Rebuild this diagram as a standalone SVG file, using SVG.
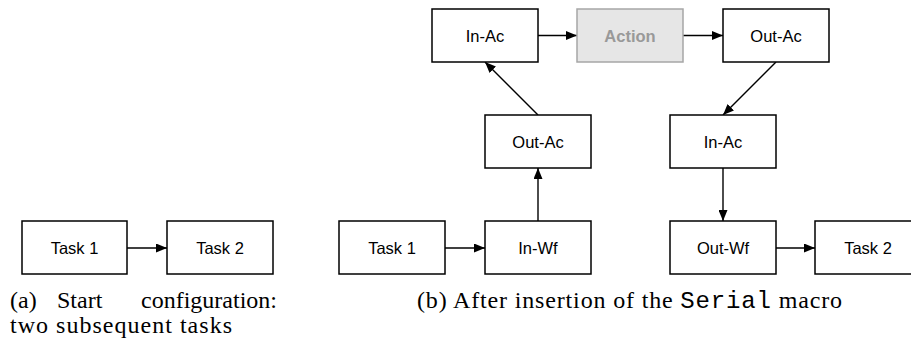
<svg xmlns="http://www.w3.org/2000/svg" width="911" height="343" viewBox="0 0 911 343">
  <style>
    .box { fill: #ffffff; stroke: #000000; stroke-width: 1.5; }
    .act { fill: #e6e6e6; stroke: #a6a6a6; stroke-width: 1.5; }
    .lbl { font-family: "Liberation Sans", Arial, sans-serif; font-size: 16.5px; fill: #000000; text-anchor: middle; }
    .actlbl { font-family: "Liberation Sans", Arial, sans-serif; font-size: 16.5px; font-weight: bold; fill: #999999; text-anchor: middle; }
    .edge { stroke: #000000; stroke-width: 1.4; fill: none; marker-end: url(#arr); }
    .cap { font-family: "Liberation Serif", "Times New Roman", serif; font-size: 24px; fill: #000000; }
    .mono { font-family: "Liberation Mono", "Courier New", monospace; }
  </style>
  <defs>
    <marker id="arr" markerUnits="userSpaceOnUse" markerWidth="11" markerHeight="9" refX="11" refY="4.5" orient="auto">
      <path d="M0,0 L11,4.5 L0,9 z" fill="#000000"/>
    </marker>
  </defs>

  <g id="connectors">
    <line class="edge" x1="127" y1="248" x2="167" y2="248"/>
    <line class="edge" x1="445" y1="248" x2="485" y2="248"/>
    <line class="edge" x1="538" y1="221" x2="538" y2="168"/>
    <line class="edge" x1="538" y1="115" x2="485" y2="62"/>
    <line class="edge" x1="538" y1="35.5" x2="577" y2="35.5"/>
    <line class="edge" x1="683" y1="35.5" x2="723" y2="35.5"/>
    <line class="edge" x1="776" y1="62" x2="723" y2="115"/>
    <line class="edge" x1="723" y1="168" x2="723" y2="221"/>
    <line class="edge" x1="776" y1="248" x2="815" y2="248"/>
  </g>

  <g id="a-task1">
    <rect class="box" x="22" y="221" width="105" height="53"/>
    <text class="lbl" x="74.5" y="253.5">Task 1</text>
  </g>
  <g id="a-task2">
    <rect class="box" x="167" y="221" width="106" height="53"/>
    <text class="lbl" x="220" y="253.5">Task 2</text>
  </g>

  <g id="b-inac1">
    <rect class="box" x="432" y="9" width="106" height="53"/>
    <text class="lbl" x="485" y="41.5">In-Ac</text>
  </g>
  <g id="b-action">
    <rect class="act" x="577" y="9" width="106" height="53"/>
    <text class="actlbl" x="630" y="41.5">Action</text>
  </g>
  <g id="b-outac1">
    <rect class="box" x="723" y="9" width="106" height="53"/>
    <text class="lbl" x="776" y="41.5">Out-Ac</text>
  </g>
  <g id="b-outac2">
    <rect class="box" x="485" y="115" width="106" height="53"/>
    <text class="lbl" x="538" y="147.5">Out-Ac</text>
  </g>
  <g id="b-inac2">
    <rect class="box" x="670" y="115" width="106" height="53"/>
    <text class="lbl" x="723" y="147.5">In-Ac</text>
  </g>
  <g id="b-task1">
    <rect class="box" x="339" y="221" width="106" height="53"/>
    <text class="lbl" x="392" y="253.5">Task 1</text>
  </g>
  <g id="b-inwf">
    <rect class="box" x="485" y="221" width="106" height="53"/>
    <text class="lbl" x="538" y="253.5">In-Wf</text>
  </g>
  <g id="b-outwf">
    <rect class="box" x="670" y="221" width="106" height="53"/>
    <text class="lbl" x="723" y="253.5">Out-Wf</text>
  </g>
  <g id="b-task2">
    <rect class="box" x="815" y="221" width="106" height="53"/>
    <text class="lbl" x="868" y="253.5">Task 2</text>
  </g>

  <g id="captions">
    <text class="cap" y="308"><tspan x="10">(a)</tspan><tspan x="57">Start</tspan><tspan x="141">configuration:</tspan></text>
    <text class="cap" x="10" y="333" textLength="222" lengthAdjust="spacing">two subsequent tasks</text>
    <text class="cap" x="417" y="308" textLength="425" lengthAdjust="spacing">(b) After insertion of the <tspan class="mono">Serial</tspan> macro</text>
  </g>
</svg>
